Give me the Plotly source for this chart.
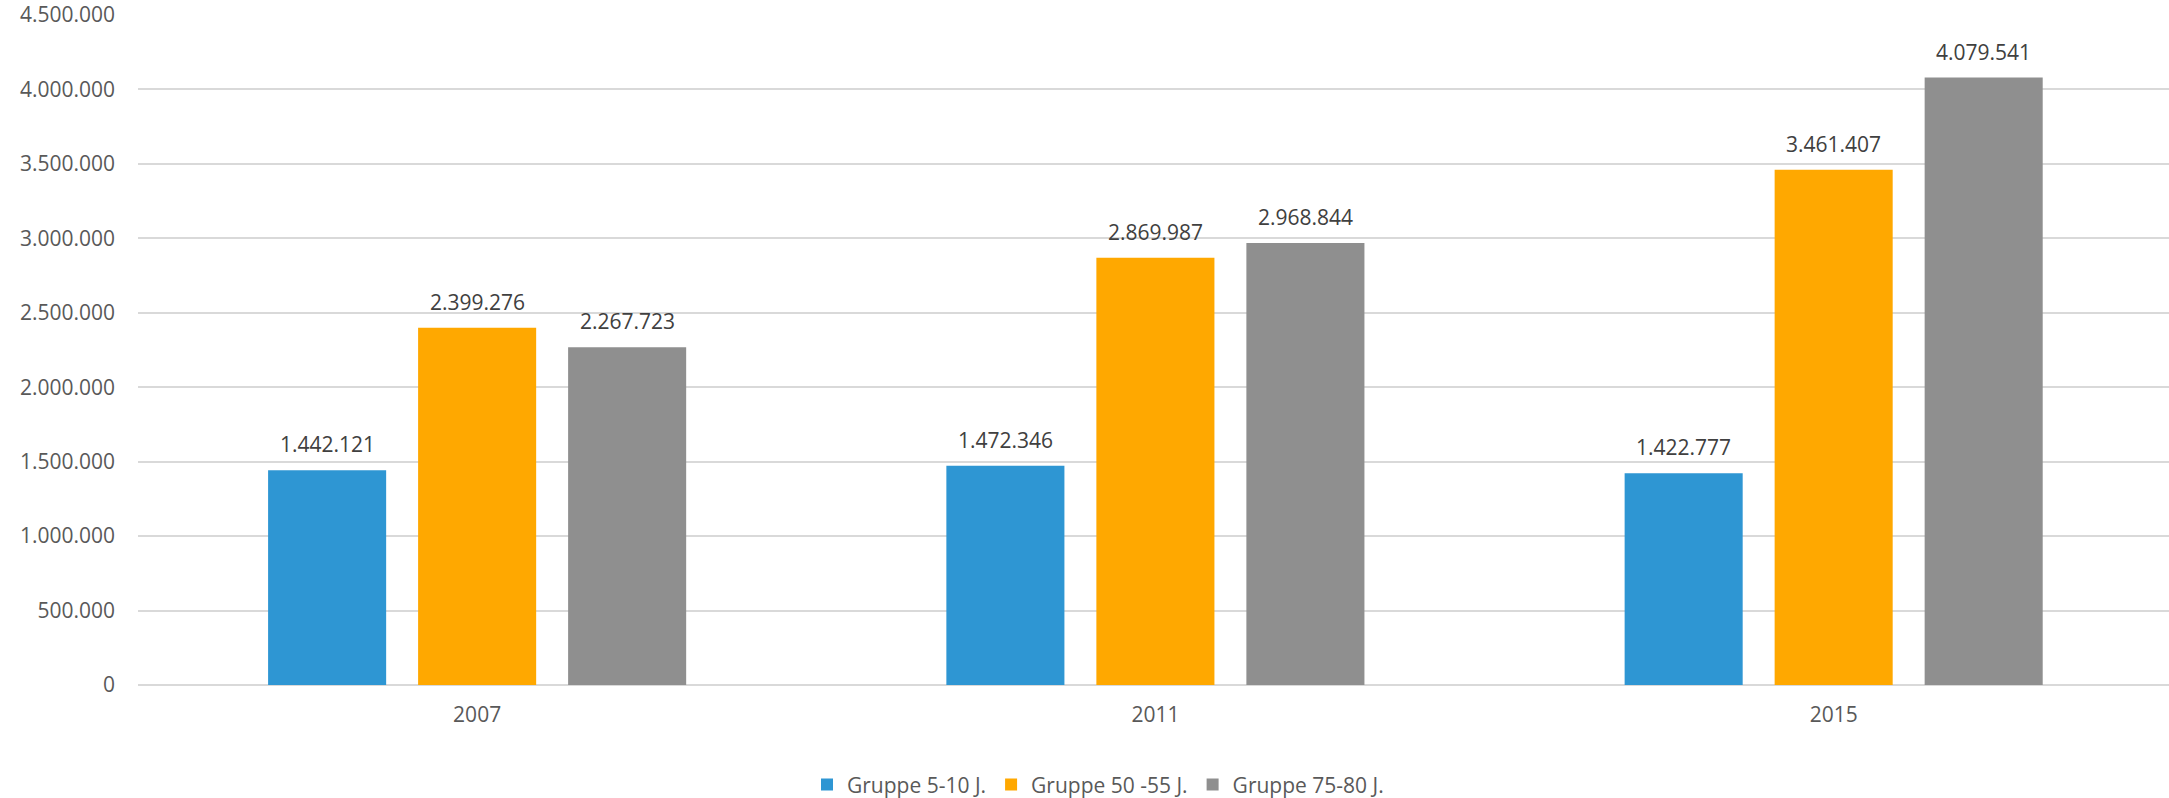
import plotly.graph_objects as go

# Jahre (Kategorien)
years = ["2007", "2011", "2015"]

# Anzahl Personen je Altersgruppe
gruppe_5_10 = [1442121, 1472346, 1422777]
gruppe_50_55 = [2399276, 2869987, 3461407]
gruppe_75_80 = [2267723, 2968844, 4079541]

series_names = ["Gruppe 5-10 J.", "Gruppe 50 -55 J.", "Gruppe 75-80 J."]
series_values = [gruppe_5_10, gruppe_50_55, gruppe_75_80]
series_colors = ["#2E96D3", "#FFA800", "#8F8F8F"]

y_ticks = [0, 500000, 1000000, 1500000, 2000000, 2500000, 3000000, 3500000, 4000000, 4500000]

FONT = "Open Sans, Segoe UI, Liberation Sans, sans-serif"

W, H = 2169, 798
M_L, M_R, M_T, M_B = 138, 0, 15, 113
BARGAP = 0.3365
BARGROUPGAP = 0.213
X_RANGE = [-0.5, 2.4944]

fig = go.Figure()
for name, vals, col in zip(series_names, series_values, series_colors):
    fig.add_trace(go.Bar(
        x=years, y=vals, name=name,
        marker=dict(color=col, line=dict(width=0)),
    ))

# value labels above bars, offset horizontally to each bar in its group
plot_w = W - M_L - M_R
cat_px = plot_w / (X_RANGE[1] - X_RANGE[0])
slot_px = cat_px * (1 - BARGAP) / len(series_values)
annotations = []
for i, vals in enumerate(series_values):
    dx = (i - (len(series_values) - 1) / 2) * slot_px
    for k, v in enumerate(vals):
        annotations.append(dict(
            x=k, y=v, xref="x", yref="y",
            text=f"{v:,}".replace(",", "."),
            showarrow=False, xshift=dx, yshift=26, yanchor="middle",
            font=dict(family=FONT, size=21, color="#404040"),
        ))

fig.update_layout(
    width=W, height=H,
    margin=dict(l=M_L, r=M_R, t=M_T, b=M_B, pad=0, autoexpand=False),
    paper_bgcolor="white", plot_bgcolor="white",
    barmode="group", bargap=BARGAP, bargroupgap=BARGROUPGAP,
    separators=",.",
    font=dict(family=FONT, size=21, color="#595959"),
    annotations=annotations,
    showlegend=True,
    legend=dict(
        orientation="h", x=(807 - M_L) / plot_w, xanchor="left",
        y=-0.149, yanchor="middle",
        font=dict(family=FONT, size=21, color="#595959"),
        itemclick=False, traceorder="normal", tracegroupgap=0,
    ),
    xaxis=dict(
        type="category", range=X_RANGE, showgrid=False, zeroline=False,
        showline=False, ticks="", ticklabelstandoff=15, automargin=False,
        tickfont=dict(family=FONT, size=21, color="#595959"),
    ),
    yaxis=dict(
        range=[0, 4500000], tickvals=y_ticks, tickformat=",d",
        showgrid=True, gridcolor="#D9D9D9", gridwidth=2,
        zeroline=True, zerolinecolor="#D9D9D9", zerolinewidth=2,
        showline=False, ticks="", ticklabelstandoff=22, automargin=False,
        tickfont=dict(family=FONT, size=21, color="#595959"),
    ),
)

fig.write_html("out.html")
